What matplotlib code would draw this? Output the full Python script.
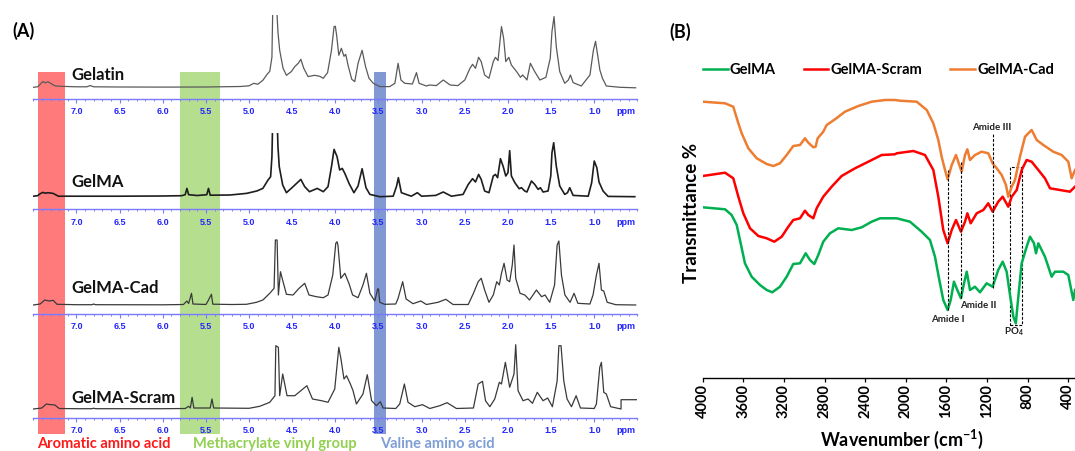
import numpy as np
import matplotlib
matplotlib.use('Agg')
import matplotlib.pyplot as plt
import matplotlib.ticker as mticker
from matplotlib.patches import Rectangle

plt.rcParams['font.family'] = ['Lato', 'DejaVu Sans']
plt.rcParams['mathtext.fontset'] = 'custom'
plt.rcParams['mathtext.rm'] = 'Lato'
plt.rcParams['mathtext.bf'] = 'Lato:bold'

# --- (A) 1H NMR: (ppm, intensity) ---
gelatin = [(7.50, 0), (7.45, 0.5), (7.42, 3), (7.39, 5.7), (7.36, 4.5), (7.33, 5.5), (7.29, 3.5),
           (7.25, 1.5), (7.19, 1.0), (7.0, 0.5), (6.88, 0.5), (6.84, 1.7), (6.80, 0.5), (6.5, 0.3),
           (6.0, 0.2), (5.5, 0.3), (5.1, 0.8), (5.0, 1.5), (4.945, 4), (4.90, 3), (4.84, 7), (4.79, 13),
           (4.76, 16), (4.735, 30), (4.725, 80), (4.68, 80), (4.665, 55), (4.645, 37), (4.606, 19),
           (4.567, 12), (4.51, 15.7), (4.47, 20.7), (4.43, 24), (4.40, 28), (4.366, 19), (4.316, 10.7),
           (4.24, 12), (4.18, 11), (4.14, 9), (4.09, 14.7), (4.045, 37), (4.015, 60.7), (4.0, 61),
           (3.985, 52), (3.96, 32), (3.93, 39), (3.90, 31), (3.88, 33), (3.85, 21), (3.81, 8),
           (3.775, 5.7), (3.737, 24), (3.69, 37), (3.65, 20.7), (3.61, 9), (3.56, 4), (3.485, 0.7),
           (3.37, 0.7), (3.31, 4), (3.273, 24), (3.24, 7.3), (3.196, 4), (3.107, 3.3), (3.06, 14.7),
           (3.03, 4), (2.945, 1.3), (2.906, 2.3), (2.83, 1.7), (2.75, 7.3), (2.67, 2.3), (2.58, 1.7),
           (2.50, 7.3), (2.44, 19), (2.41, 23), (2.376, 19), (2.34, 30), (2.31, 25.7), (2.27, 12.3),
           (2.22, 9), (2.17, 25.7), (2.145, 30), (2.115, 26.7), (2.075, 60.7), (2.05, 49),
           (2.025, 25.7), (1.99, 30), (1.96, 22.3), (1.90, 15.7), (1.855, 10), (1.83, 12.3),
           (1.805, 10), (1.78, 7.3), (1.74, 24), (1.69, 15.7), (1.63, 7.3), (1.56, 10), (1.51, 29),
           (1.49, 55.7), (1.466, 70.7), (1.44, 40.7), (1.40, 15.7), (1.342, 4), (1.30, 7.3),
           (1.276, 12.3), (1.245, 4.7), (1.15, 1.3), (1.05, 12.3), (1.01, 37), (0.985, 46),
           (0.955, 29), (0.935, 17.3), (0.905, 9), (0.86, 1.3), (0.70, 0), (0.52, -0.5)]

gelma = [(7.50, 0.5), (7.45, 1), (7.42, 3), (7.39, 4.3), (7.36, 3.5), (7.33, 4), (7.27, 3.3),
         (7.21, 0.5), (7.0, 0.5), (6.5, 0.5), (6.0, 0.7), (5.78, 1), (5.74, 2), (5.72, 8.3), (5.70, 2),
         (5.60, 1.2), (5.49, 2), (5.47, 8.3), (5.45, 1.5), (5.22, 1.7), (5.03, 3.3), (4.91, 5.7),
         (4.84, 8.3), (4.78, 16.7), (4.75, 20), (4.735, 40), (4.725, 80), (4.675, 80), (4.665, 50),
         (4.65, 30), (4.61, 11.7), (4.567, 4), (4.49, 10), (4.40, 17.3), (4.355, 10), (4.30, 5),
         (4.21, 8.3), (4.14, 5), (4.085, 10), (4.045, 30), (4.015, 47.3), (3.98, 40), (3.95, 26.7),
         (3.92, 28.3), (3.89, 23.3), (3.84, 13), (3.785, 4), (3.737, 10.7), (3.69, 28), (3.645, 9),
         (3.60, 2.3), (3.485, 0), (3.33, 0.5), (3.29, 10.7), (3.27, 19), (3.235, 4), (3.12, 0.5),
         (3.05, 4), (3.0, 0.5), (2.836, 1.3), (2.75, 4.7), (2.655, 0.5), (2.52, 2.3), (2.46, 12.3),
         (2.41, 18), (2.376, 14.7), (2.34, 22.3), (2.31, 17.3), (2.27, 5.7), (2.22, 4), (2.17, 20.7),
         (2.145, 22.3), (2.12, 19), (2.087, 38), (2.057, 30.7), (2.025, 20.7), (2.0, 24), (1.98, 46),
         (1.96, 20.7), (1.92, 14), (1.87, 8), (1.844, 9), (1.805, 5.7), (1.78, 4.7), (1.728, 15.7),
         (1.69, 12.3), (1.65, 7.3), (1.624, 9), (1.593, 4.7), (1.535, 5.7), (1.504, 20.7),
         (1.49, 44), (1.47, 54), (1.44, 30.7), (1.40, 10.7), (1.342, 2.3), (1.31, 4), (1.284, 9),
         (1.245, 1.3), (1.07, 0.5), (1.03, 14), (1.0, 35.7), (0.97, 29), (0.945, 14.7),
         (0.898, 5.7), (0.84, 0.3), (0.53, 0)]

gelma_cad = [(7.50, 0), (7.42, 1), (7.367, 5), (7.317, 4), (7.27, 4.7), (7.225, 0.7), (7.0, 0.3),
             (6.82, 0.3), (6.80, 1), (6.78, 0.3), (6.0, 0.2), (5.76, 0.5), (5.72, 4), (5.70, 1.5),
             (5.667, 11.7), (5.65, 1), (5.50, 0.5), (5.48, 3.3), (5.436, 10.7), (5.42, 0.8),
             (5.20, 0.5), (5.03, 0.7), (4.914, 2.7), (4.84, 5), (4.76, 11.7), (4.71, 16.7),
             (4.695, 65), (4.675, 65), (4.66, 10), (4.636, 33.3), (4.606, 23.3), (4.567, 10.7),
             (4.49, 10), (4.42, 16.7), (4.355, 21.7), (4.305, 10), (4.22, 8.3), (4.14, 7.3),
             (4.085, 10), (4.03, 30), (3.995, 61.7), (3.98, 63.3), (3.97, 60), (3.937, 26.7),
             (3.89, 31.7), (3.84, 21), (3.80, 10), (3.737, 7.3), (3.68, 20), (3.64, 31.7),
             (3.60, 11.7), (3.543, 4), (3.51, 16), (3.50, 16), (3.485, 2.7), (3.43, 0.7), (3.30, 1),
             (3.273, 6.7), (3.22, 23.3), (3.18, 6), (3.10, 1.3), (3.01, 4), (2.945, 0.5), (2.81, 2.7),
             (2.72, 5.7), (2.636, 0.5), (2.46, 0.5), (2.40, 11.7), (2.345, 23.3), (2.31, 26.7),
             (2.27, 15), (2.22, 2.7), (2.17, 10), (2.13, 23.3), (2.10, 20), (2.075, 31.7),
             (2.045, 41.7), (2.01, 25), (1.98, 23.3), (1.95, 40), (1.93, 60), (1.91, 26.7),
             (1.86, 11.7), (1.805, 10), (1.75, 5), (1.67, 15), (1.61, 8.3), (1.57, 10), (1.516, 2.7),
             (1.46, 20), (1.43, 60), (1.41, 64), (1.38, 30), (1.34, 10), (1.28, 2.7), (1.234, 11.7),
             (1.19, 1.7), (1.05, 1), (1.014, 10), (0.975, 30), (0.945, 41.7), (0.917, 15),
             (0.89, 14), (0.85, 2.7), (0.75, 0.3), (0.52, 0)]

gelma_scram = [(7.50, 0), (7.40, 1), (7.35, 5), (7.317, 4.5), (7.25, 4), (7.20, 0.5), (7.0, 0.3),
               (6.82, 0.3), (6.80, 0.8), (6.78, 0.3), (6.0, 0.3), (5.74, 0.5), (5.70, 2.7),
               (5.68, 1), (5.66, 11.7), (5.64, 1), (5.45, 1), (5.43, 10), (5.41, 1), (5.0, 0.7),
               (4.876, 2.7), (4.76, 6.7), (4.70, 13.3), (4.69, 63.3), (4.66, 61.7), (4.645, 13.3),
               (4.61, 35), (4.56, 13.3), (4.47, 13.3), (4.40, 18.3), (4.33, 23.3), (4.265, 10),
               (4.16, 8.3), (4.085, 6.7), (4.007, 20), (3.96, 61.7), (3.935, 50), (3.90, 30),
               (3.87, 33.3), (3.826, 25), (3.795, 18.3), (3.756, 5), (3.68, 15), (3.63, 34.3),
               (3.58, 8.3), (3.524, 3.3), (3.48, 7.3), (3.447, 1), (3.30, 0.5), (3.254, 5),
               (3.20, 25), (3.158, 6.7), (3.08, 2.3), (2.99, 4.3), (2.906, 0.5), (2.79, 3.3),
               (2.705, 6.3), (2.597, 0.5), (2.40, 1), (2.345, 25), (2.295, 27.7), (2.26, 8.3),
               (2.21, 2.3), (2.153, 10), (2.10, 26.7), (2.075, 25), (2.03, 46.7), (1.98, 21.7),
               (1.93, 35), (1.91, 64.3), (1.883, 18.3), (1.825, 8.3), (1.767, 10), (1.716, 5.7),
               (1.66, 16.7), (1.593, 8.3), (1.54, 11), (1.485, 2.3), (1.43, 28), (1.41, 63.3),
               (1.385, 63.3), (1.353, 28), (1.315, 10), (1.264, 2.3), (1.21, 13.3), (1.16, 1),
               (1.00, 0.5), (0.975, 5), (0.936, 41.7), (0.917, 46.7), (0.89, 16.7), (0.86, 15),
               (0.81, 2.3), (0.69, 0), (0.689, 9.3), (0.49, 9.3)]

nmr_names = ['Gelatin', 'GelMA', 'GelMA-Cad', 'GelMA-Scram']
ppm_ticks = [7.0, 6.5, 6.0, 5.5, 5.0, 4.5, 4.0, 3.5, 3.0, 2.5, 2.0, 1.5, 1.0]
region_ppm = [(7.445, 7.136), (5.795, 5.331), (3.551, 3.416)]
region_names = ['Aromatic amino acid', 'Methacrylate vinyl group', 'Valine amino acid']

# --- (B) FTIR: (wavenumber, transmittance, arbitrary units) ---
ftir_cad = [(4000, 276.6), (3780, 275), (3699, 271.6), (3649, 255), (3616, 245), (3551, 230),
            (3468, 220), (3370, 214.3), (3305, 212.3), (3239, 215), (3173, 223.3), (3108, 232.3),
            (3042, 233.3), (2993, 240), (2960, 235.6), (2911, 231), (2888, 231.6), (2868, 240),
            (2813, 246.6), (2779, 253.3), (2697, 259), (2599, 266.6), (2468, 272.3), (2336, 276.6),
            (2205, 278.3), (2107, 278.3), (2057, 277.6), (1893, 276.6), (1794, 268.3), (1729, 255),
            (1680, 238.3), (1647, 221.6), (1614, 208.3), (1588, 199), (1548, 213.3), (1506, 223.3),
            (1473, 213.3), (1450, 206.6), (1417, 223.3), (1394, 229), (1368, 218.3), (1319, 223.3),
            (1253, 226.6), (1188, 225), (1145, 215), (1105, 210), (1056, 203.3), (1014, 193.3),
            (991, 181.6), (957, 191.6), (925, 198.3), (876, 221.6), (826, 241.6), (761, 248.3),
            (711, 238.3), (646, 233.3), (548, 226.6), (465, 223.3), (400, 216.6), (367, 200),
            (334, 208.3)]

ftir_scram = [(4000, 202.3), (3780, 205.6), (3699, 200), (3649, 181.6), (3600, 165), (3534, 150),
              (3452, 142.3), (3370, 140), (3295, 136.6), (3222, 141.6), (3157, 151.6), (3108, 158.3),
              (3042, 160), (2993, 167.6), (2960, 163.3), (2911, 160), (2878, 170), (2813, 181.6),
              (2730, 191.6), (2632, 202.3), (2500, 210), (2369, 216.6), (2238, 223.3), (2107, 224),
              (2090, 225), (1926, 227.3), (1811, 223.3), (1729, 208.3), (1680, 181.6), (1631, 148.3),
              (1588, 135), (1548, 148.3), (1506, 158.3), (1457, 146.6), (1417, 156.6), (1394, 165),
              (1361, 155), (1302, 165), (1237, 168.3), (1188, 175), (1145, 166.6), (1090, 176.6),
              (1046, 181.6), (991, 171.6), (957, 181.6), (908, 188.3), (859, 208.3), (810, 218.3),
              (761, 216.6), (695, 208.3), (630, 200), (580, 190), (482, 188.3), (384, 186.6),
              (334, 191.6)]

ftir_gelma = [(4000, 171), (3780, 169), (3715, 163.3), (3665, 153.3), (3633, 138.3), (3584, 115),
              (3518, 101.6), (3436, 93.3), (3370, 88.3), (3315, 86), (3239, 91.6), (3173, 101.6),
              (3108, 114.3), (3042, 115), (2986, 125), (2944, 118.3), (2901, 114.3), (2862, 123.3),
              (2813, 136.6), (2747, 145), (2665, 150), (2533, 148.3), (2434, 151), (2336, 156.6),
              (2254, 160), (2107, 160), (2090, 160), (1959, 156.6), (1844, 146.6), (1762, 138.3),
              (1713, 121.6), (1670, 98.3), (1631, 78.3), (1588, 68.3), (1558, 78.3), (1526, 96.6),
              (1493, 88.3), (1457, 80), (1427, 95), (1400, 106.6), (1368, 88.3), (1319, 91.6),
              (1270, 86), (1204, 95), (1145, 91.6), (1090, 108.3), (1046, 116.6), (1007, 106.6),
              (974, 83.3), (941, 61.6), (917, 55), (892, 81.6), (859, 115), (810, 131.6),
              (777, 141.6), (738, 135), (718, 125), (695, 135), (630, 121.6), (564, 101.6),
              (531, 106.6), (449, 106.6), (400, 103.3), (351, 78.3), (334, 88.3)]

ftir_ticks = [4000, 3600, 3200, 2800, 2400, 2000, 1600, 1200, 800, 400]
amide_wn = [1588, 1457, 1145]          # Amide I, II, III
amide_span = [(68.3, 208.3), (80, 216.6), (90, 245)]
po4_box = (974, 859, 53.3, 211.6)

# --- figure, laid out in pixels ---
W, H = 1075, 451
fig = plt.figure(figsize=(W / 100, H / 100), dpi=100)


def px_axes(left, top, right, bottom):
    return fig.add_axes([left / W, 1 - bottom / H, (right - left) / W, (bottom - top) / H])


def ftext(x, y, s, **kw):
    return fig.text(x / W, 1 - y / H, s, **kw)


nmr_left, nmr_right = 33.3, 637.4

# shaded bands behind the four spectra
bg = px_axes(nmr_left, 0, nmr_right, H)
bg.set_xlim(7.5, 0.5)
bg.axis('off')
region_colors = ['#ff7b7b', '#b5df8f', '#8099d4']
for (hi, lo), col in zip(region_ppm, region_colors):
    bg.axvspan(lo, hi, ymin=1 - 434 / H, ymax=1 - 71.7 / H, color=col, lw=0)

nmr_data = [gelatin, gelma, gelma_cad, gelma_scram]
tops = [15, 133, 235, 340]
axis_y = [99, 209.3, 313.5, 418]
base_y = [87.3, 196.7, 305, 409]
label_y = [75, 181.7, 288.3, 397.7]
trace_colors = ['#5a5a5a', '#1e1e1e', '#3a3a3a', '#3a3a3a']
trace_lw = [0.9, 1.2, 0.9, 0.9]
blue_line = '#7a7aff'
blue_text = '#2424ff'

for i, spec in enumerate(nmr_data):
    arr = np.array(spec)
    ax = px_axes(nmr_left, tops[i], nmr_right, axis_y[i])
    ax.patch.set_alpha(0)
    ax.plot(arr[:, 0], arr[:, 1], color=trace_colors[i], lw=trace_lw[i])
    ax.set_xlim(7.5, 0.5)
    ax.set_ylim(-(axis_y[i] - base_y[i]), base_y[i] - tops[i])
    for s in ['top', 'left', 'right']:
        ax.spines[s].set_visible(False)
    ax.spines['bottom'].set_color(blue_line)
    ax.spines['bottom'].set_linewidth(1.0)
    ax.set_yticks([])
    ax.set_xticks(ppm_ticks)
    ax.xaxis.set_major_formatter(mticker.FormatStrFormatter('%.1f'))
    ax.xaxis.set_minor_locator(mticker.MultipleLocator(0.1))
    ax.tick_params(axis='x', which='major', direction='out', length=3, width=0.8,
                   color=blue_line, labelcolor=blue_text, labelsize=6.5, pad=3)
    ax.tick_params(axis='x', which='minor', direction='out', length=1.6, width=0.7,
                   color=blue_line)
    for lab in ax.get_xticklabels():
        lab.set_fontweight('bold')
        lab.set_family('Liberation Sans')
    ax.annotate('ppm', xy=(0.635, 0), xycoords=('data', 'axes fraction'),
                xytext=(0, -6), textcoords='offset points', ha='center', va='top',
                fontsize=6.5, fontweight='bold', family='Liberation Sans', color=blue_text)
    ftext(71.7, label_y[i], nmr_names[i], fontsize=12, fontweight='bold',
          ha='left', va='center', color='#111111')

region_text_colors = ['#ff1a1a', '#92d050', '#7f9ed6']
region_text_x = [37.3, 193.3, 380]
for name, col, x in zip(region_names, region_text_colors, region_text_x):
    ftext(x, 444, name, fontsize=10.5, fontweight='bold', color=col, ha='left', va='center')

ftext(12, 31, '(A)', fontsize=13, fontweight='bold', ha='left', va='center')
ftext(669, 32, '(B)', fontsize=13, fontweight='bold', ha='left', va='center')

# --- FTIR panel ---
ax2 = px_axes(702.7, 90, 1075, 378.3)
ax2.set_xlim(4000, 334)
ax2.set_ylim(0, 288.3)
ftir_series = [(ftir_gelma, '#00b050', 'GelMA'),
               (ftir_scram, '#ff0000', 'GelMA-Scram'),
               (ftir_cad, '#ed7d31', 'GelMA-Cad')]
handles = []
for data, col, name in ftir_series:
    arr = np.array(data)
    ln, = ax2.plot(arr[:, 0], arr[:, 1], color=col, lw=1.8, label=name)
    handles.append(ln)

for wn, (y0, y1) in zip(amide_wn, amide_span):
    ax2.plot([wn, wn], [y0, y1], color='black', lw=0.8, ls=(0, (2.5, 1.5)))
x0, x1, y0, y1 = po4_box
ax2.add_patch(Rectangle((x0, y0), x1 - x0, y1 - y0, fill=False, ec='black', lw=0.8,
                        ls=(0, (2.5, 1.5))))

ann_kw = dict(fontsize=7, fontweight='bold', ha='center', va='center', color='#222222')
ax2.text(1582, 58.3, 'Amide I', **ann_kw)
ax2.text(1289, 72.3, 'Amide II', **ann_kw)
ax2.text(1155, 250.6, 'Amide III', **ann_kw)
ax2.text(932, 46.6, r'PO$_\mathbf{4}$', **ann_kw)

for s in ['top', 'left', 'right']:
    ax2.spines[s].set_visible(False)
ax2.spines['bottom'].set_linewidth(1.0)
ax2.set_yticks([])
ax2.set_xticks(ftir_ticks)
ax2.tick_params(axis='x', direction='out', length=3, width=0.9, labelsize=10.5,
                labelrotation=90, pad=1)
for lab in ax2.get_xticklabels():
    lab.set_fontweight('bold')

ftext(902, 439, r'Wavenumber (cm$^\mathbf{-1}$)', fontsize=13, fontweight='bold',
      ha='center', va='center')
ftext(691.7, 212.7, 'Transmittance %', fontsize=13.5, fontweight='bold', rotation=90,
      ha='center', va='center')

ax2.legend(handles=handles, loc='center left', bbox_to_anchor=(703 / W, 1 - 70 / H),
           bbox_transform=fig.transFigure, ncol=3, frameon=False, borderpad=0,
           borderaxespad=0, handlelength=1.7, handletextpad=0.15, columnspacing=1.9,
           prop={'weight': 'bold', 'size': 10.5})

fig.savefig('out.png', dpi=100)
